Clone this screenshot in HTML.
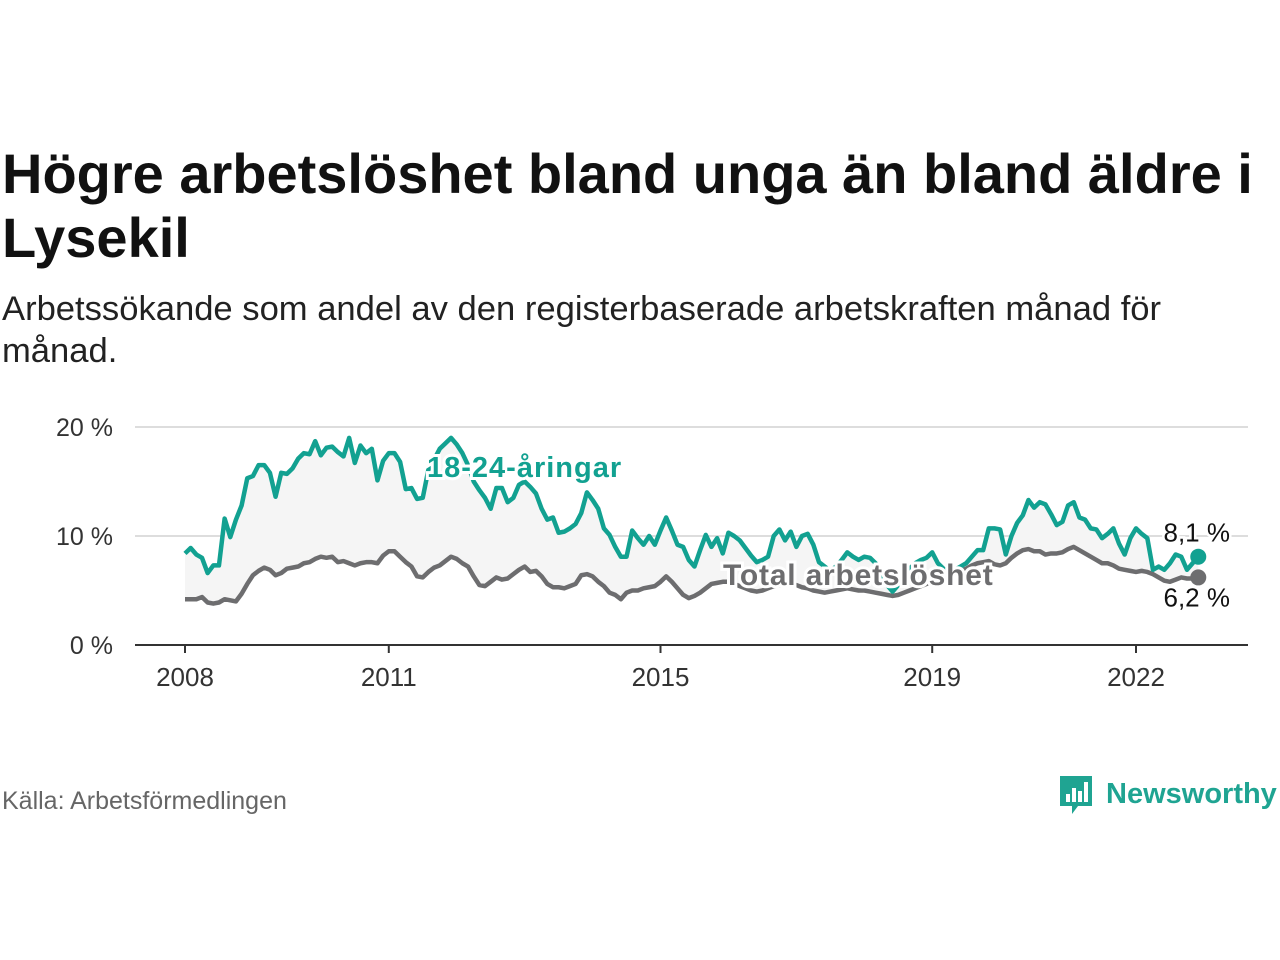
<!DOCTYPE html>
<html><head><meta charset="utf-8">
<style>
body{margin:0;background:#fff;width:1280px;height:960px;overflow:hidden;font-family:"Liberation Sans",sans-serif;}
.t{position:absolute;left:2px;top:142px;font-size:56px;font-weight:bold;color:#111;line-height:64px;width:1278px;margin:0;white-space:nowrap}
.s{position:absolute;left:2px;top:288px;font-size:34.6px;color:#222;line-height:42px;width:1270px;white-space:nowrap}
.src{position:absolute;left:2px;top:787px;font-size:25px;color:#666}
.logo{position:absolute;left:1058px;top:772px;display:flex;align-items:center}
.logo span{font-size:29px;font-weight:bold;color:#1fa492;margin-left:12px}
svg{position:absolute;left:0;top:0}
</style></head><body>
<div class="t">Högre arbetslöshet bland unga än bland äldre i<br>Lysekil</div>
<div class="s">Arbetssökande som andel av den registerbaserade arbetskraften månad för<br>månad.</div>
<div class="src">Källa: Arbetsförmedlingen</div>
<div class="logo">
<svg width="36" height="44" style="position:static"><path d="M2 4h32v30H20l-6 8v-8H2z" fill="#1fa492"/><rect x="8" y="22" width="4" height="8" fill="#fff"/><rect x="14" y="16" width="4" height="14" fill="#fff"/><rect x="20" y="19" width="4" height="11" fill="#fff"/><rect x="26" y="10" width="4" height="20" fill="#fff"/></svg>
<span>Newsworthy</span></div>
<svg id="c" width="1280" height="960"></svg>
<script>
const youth=[8.4,8.9,8.3,8.0,6.6,7.3,7.3,11.6,9.9,11.5,12.8,15.3,
15.5,16.5,16.5,15.8,13.6,15.8,15.7,16.2,17.1,17.6,17.5,18.7,
17.4,18.1,18.2,17.7,17.3,19.0,16.7,18.3,17.6,18.0,15.1,16.9,
17.6,17.6,16.8,14.3,14.4,13.4,13.5,16.1,17.0,18.0,18.5,19.0,
18.4,17.6,16.5,15.0,14.2,13.5,12.5,14.4,14.4,13.1,13.5,14.7,
15.0,14.5,13.9,12.5,11.5,11.7,10.3,10.4,10.7,11.1,12.1,14.0,
13.3,12.5,10.7,10.1,9.0,8.1,8.1,10.5,9.8,9.2,10.0,9.2,
10.5,11.7,10.5,9.2,9.0,7.8,7.2,8.7,10.1,9.0,9.8,8.4,
10.3,10.0,9.6,8.9,8.2,7.6,7.8,8.1,10.0,10.6,9.6,10.4,
9.0,10.0,10.2,9.2,7.6,7.2,6.8,7.2,7.8,8.5,8.1,7.8,
8.1,8.0,7.5,6.5,5.5,4.9,5.5,6.3,7.0,7.5,7.8,8.0,
8.5,7.5,7.0,6.8,6.9,7.2,7.5,8.1,8.7,8.7,10.7,10.7,
10.6,8.3,10.0,11.2,11.9,13.3,12.6,13.1,12.9,12.0,11.0,11.3,
12.8,13.1,11.7,11.5,10.7,10.6,9.8,10.2,10.7,9.3,8.3,9.8,
10.7,10.2,9.8,6.9,7.2,6.9,7.5,8.3,8.1,6.9,7.5,8.1];
const total=[4.2,4.2,4.2,4.4,3.9,3.8,3.9,4.2,4.1,4.0,4.7,5.6,
6.4,6.8,7.1,6.9,6.4,6.6,7.0,7.1,7.2,7.5,7.6,7.9,
8.1,8.0,8.1,7.6,7.7,7.5,7.3,7.5,7.6,7.6,7.5,8.2,
8.6,8.6,8.1,7.6,7.2,6.3,6.2,6.7,7.1,7.3,7.7,8.1,
7.9,7.5,7.2,6.3,5.5,5.4,5.8,6.2,6.0,6.1,6.5,6.9,
7.2,6.7,6.8,6.3,5.6,5.3,5.3,5.2,5.4,5.6,6.4,6.5,
6.3,5.8,5.4,4.8,4.6,4.2,4.8,5.0,5.0,5.2,5.3,5.4,
5.8,6.3,5.8,5.2,4.6,4.3,4.5,4.8,5.2,5.6,5.7,5.8,
5.8,5.6,5.4,5.2,5.0,4.9,5.0,5.2,5.4,5.5,5.6,5.6,
5.5,5.3,5.2,5.0,4.9,4.8,4.9,5.0,5.1,5.2,5.1,5.0,
5.0,4.9,4.8,4.7,4.6,4.5,4.6,4.8,5.0,5.2,5.4,5.6,
5.9,6.0,6.2,6.4,6.6,6.8,7.0,7.3,7.5,7.6,7.7,7.4,
7.3,7.5,8.0,8.4,8.7,8.8,8.6,8.6,8.3,8.4,8.4,8.5,
8.8,9.0,8.7,8.4,8.1,7.8,7.5,7.5,7.3,7.0,6.9,6.8,
6.7,6.8,6.7,6.5,6.2,5.9,5.8,6.0,6.2,6.1,6.1,6.2];
const yTicks=[0,10,20];
const xTickYears=[2008,2011,2015,2019,2022];
const startYear=2008;
const ns="http://www.w3.org/2000/svg",svg=document.getElementById('c');
const X0=185,PXY=(1136-185)/14,Y0=645,PXP=10.9;
const xs=i=>X0+(i/12)*PXY, xy=yr=>X0+(yr-startYear)*PXY, ys=v=>Y0-v*PXP;
function mk(t,a,txt){const e=document.createElementNS(ns,t);for(const k in a)e.setAttribute(k,a[k]);if(txt!=null)e.textContent=txt;svg.appendChild(e);return e;}
yTicks.forEach(v=>{
 if(v>0){const g=mk('line',{x1:135,x2:1248,y1:ys(v),y2:ys(v),stroke:'#ddd','stroke-width':2});
 
 }
 const t=mk('text',{x:113,y:ys(v)+9,'text-anchor':'end','font-size':25,fill:'#333'},v+' %');
 
 
});
let area='M'+youth.map((v,i)=>xs(i)+','+ys(v)).join('L');
for(let i=total.length-1;i>=0;i--)area+='L'+xs(i)+','+ys(total[i]);
const ar=mk('path',{d:area+'Z',fill:'#f5f5f5'});


const ax=mk('line',{x1:135,x2:1248,y1:Y0,y2:Y0,stroke:'#333','stroke-width':2});


xTickYears.forEach(yr=>{
 const l=mk('line',{x1:xy(yr),x2:xy(yr),y1:Y0,y2:Y0+8,stroke:'#333','stroke-width':2});
 
 
 const t=mk('text',{x:xy(yr),y:686,'text-anchor':'middle','font-size':26,fill:'#333'},String(yr));
 
 
});
function line(arr,col,name){
 const p=mk('path',{d:'M'+arr.map((v,i)=>xs(i)+','+ys(v)).join('L'),fill:'none',stroke:col,'stroke-width':4.5,'stroke-linejoin':'round'});
 
 
 const n=arr.length-1;
 const c=mk('circle',{cx:xs(n),cy:ys(arr[n]),r:8,fill:col});
 
 
}
line(total,'#6d6d6f','total-line');
line(youth,'#12a191','youth-line');
function lab(x,y,txt,col,bold,name,anchor,fs,ls){
 const t=mk('text',{x:x,y:y,'font-size':fs,'font-weight':bold?'bold':'normal','letter-spacing':ls||0,fill:col,stroke:'#fff','stroke-width':bold?6:5,'paint-order':'stroke','text-anchor':anchor||'start'},txt);
 
 
}
lab(427,477,'18-24-åringar','#12a191',true,'youth-series-label','start',29,1);
lab(723,585,'Total arbetslöshet','#6d6d6f',true,'total-series-label','start',30,0.8);
const n=youth.length-1;
lab(1230,ys(youth[n])-15,(youth[n].toFixed(1)).replace('.',',')+' %','#111',false,'youth-end-value','end',26);
lab(1230,ys(total[n])+29,(total[n].toFixed(1)).replace('.',',')+' %','#111',false,'total-end-value','end',26);
</script>
</body></html>
